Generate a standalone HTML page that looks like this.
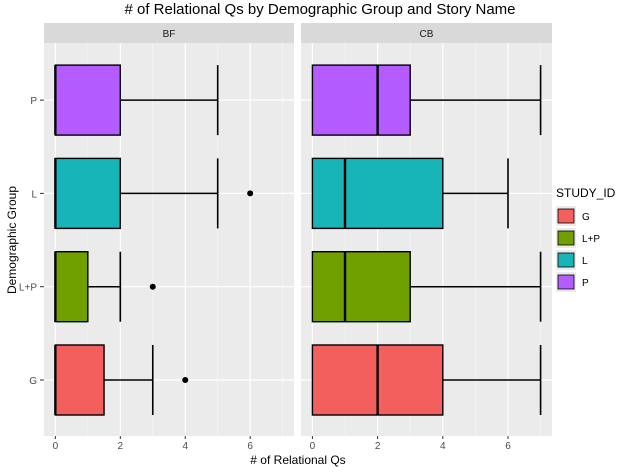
<!DOCTYPE html>
<html><head><meta charset="utf-8"><style>
body{margin:0;background:#fff;font-family:"Liberation Sans",sans-serif}
</style></head><body>
<svg id="chart" width="640" height="467" xmlns="http://www.w3.org/2000/svg"></svg>
<script>
const groups=["G","L+P","L","P"];
const colors=["#F25F5C","#6FA000","#17B4B8","#B45CFF"];
const panels=["BF","CB"];
const xTicks=[0,2,4,6];
// per panel, per group: [min,q1,median,q3,max]
const statsBF=[[0,0,0,1.5,3],[0,0,0,1,2],[0,0,0,2,5],[0,0,0,2,5]];
const statsCB=[[0,0,2,4,7],[0,0,1,3,7],[0,0,1,4,6],[0,0,2,3,7]];
const outliersBF=[[4],[3],[6],[]];
const outliersCB=[[],[],[],[]];
const S=document.getElementById('chart');const NS="http://www.w3.org/2000/svg";
function mk(t,a,p){const e=document.createElementNS(NS,t);for(const k in a)e.setAttribute(k,a[k]);(p||S).appendChild(e);return e;}
const panelX=[[44,294],[301,552]];const topY=43,botY=436;
const yPos=i=>380-i*93.3;
mk('text',{x:320,y:14,'text-anchor':'middle','font-size':15,fill:'#000'}).textContent="# of Relational Qs by Demographic Group and Story Name";
panels.forEach((pn,pi)=>{
 const [x0,x1]=panelX[pi];const xs=v=>x0+(v+0.35)/7.7*(x1-x0);
 const g=mk('g',{});
 
 
 mk('rect',{x:x0,y:23,width:x1-x0,height:20,fill:'#d9d9d9'},g);
 mk('text',{x:(x0+x1)/2,y:37,'text-anchor':'middle','font-size':10,fill:'#1a1a1a'},g).textContent=pn;
 mk('rect',{x:x0,y:topY,width:x1-x0,height:botY-topY,fill:'#ebebeb'},g);
 for(let v=1;v<=7;v+=2)mk('line',{x1:xs(v),x2:xs(v),y1:topY,y2:botY,stroke:'#f7f7f7','stroke-width':0.6},g);
 xTicks.forEach(v=>{mk('line',{x1:xs(v),x2:xs(v),y1:topY,y2:botY,stroke:'#fff','stroke-width':1.2},g);
  mk('line',{x1:xs(v),x2:xs(v),y1:botY,y2:botY+3,stroke:'#333'},g);
  mk('text',{x:xs(v),y:botY+13,'text-anchor':'middle','font-size':10,fill:'#4d4d4d'},g).textContent=v;});
 groups.forEach((gr,i)=>mk('line',{x1:x0,x2:x1,y1:yPos(i),y2:yPos(i),stroke:'#fff','stroke-width':1.2},g));
 const st=pi?statsCB:statsBF,ou=pi?outliersCB:outliersBF;
 groups.forEach((gr,i)=>{const s=st[i],y=yPos(i),h=35;
  const b=mk('g',{},g);
  
  
  mk('line',{x1:xs(s[0]),x2:xs(s[1]),y1:y,y2:y,stroke:'#000','stroke-width':1.5},b);
  mk('line',{x1:xs(s[3]),x2:xs(s[4]),y1:y,y2:y,stroke:'#000','stroke-width':1.5},b);
  mk('line',{x1:xs(s[4]),x2:xs(s[4]),y1:y-h,y2:y+h,stroke:'#000','stroke-width':1.6},b);
  mk('rect',{x:xs(s[1]),y:y-h,width:Math.max(xs(s[3])-xs(s[1]),0),height:2*h,fill:colors[i],stroke:'#000','stroke-width':1.4},b);
  mk('line',{x1:xs(s[2]),x2:xs(s[2]),y1:y-h,y2:y+h,stroke:'#000','stroke-width':2.4},b);
  ou[i].forEach(o=>mk('circle',{cx:xs(o),cy:y,r:3,fill:'#000'},b));});
});
groups.forEach((gr,i)=>{mk('text',{x:37,y:yPos(i)+4,'text-anchor':'end','font-size':10,fill:'#4d4d4d'}).textContent=gr;
 mk('line',{x1:40,x2:44,y1:yPos(i),y2:yPos(i),stroke:'#333'});});
mk('text',{x:298,y:464,'text-anchor':'middle','font-size':12,fill:'#000'}).textContent="# of Relational Qs";
mk('text',{x:0,y:0,transform:'translate(16,240) rotate(-90)','text-anchor':'middle','font-size':12,fill:'#000'}).textContent="Demographic Group";
mk('text',{x:556,y:197,'font-size':12,fill:'#000'}).textContent="STUDY_ID";
groups.forEach((gr,i)=>{const y=206+i*22;
 const l=mk('g',{});
 
 
 mk('rect',{x:556,y:y,width:20,height:20,fill:'#ebebeb'},l);
 mk('rect',{x:558,y:y+3,width:16,height:14,fill:colors[i],stroke:'#000','stroke-width':0.8},l);
 mk('text',{x:582,y:y+14,'font-size':10,fill:'#000'},l).textContent=gr;});
</script>
</body></html>
